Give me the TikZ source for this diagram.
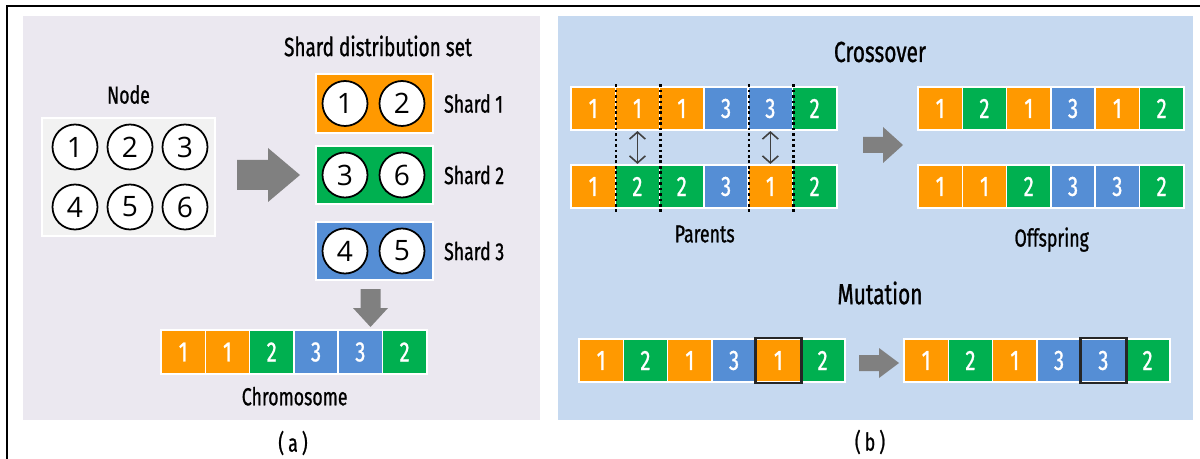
\documentclass[tikz,border=0pt]{standalone}
\usepackage{fontspec}
\setmainfont{Fira Sans}[FakeStretch=0.72,FakeBold=0.9]
\newfontfamily\serverfont{Open Sans}
\usepackage{tikz}
\usetikzlibrary{arrows.meta,positioning}
\definecolor{gO}{RGB}{255,153,0}
\definecolor{gG}{RGB}{0,176,80}
\definecolor{gB}{RGB}{85,142,213}
\definecolor{panelLilac}{RGB}{235,232,240}
\definecolor{panelBlue}{RGB}{198,217,240}
\definecolor{poolGray}{RGB}{242,242,242}
\definecolor{arrowGray}{RGB}{128,128,128}
% one chromosome: name, left x, centre y, colour/digit list
\newcommand{\chromrow}[4]{%
  \foreach \c/\d [count=\i] in {#4}
    \node[gene, fill=\c] (#1-\i) at ({#2+44.3*(\i-0.5)},#3) {\d};%
}

\begin{document}
\begin{tikzpicture}[
    x=0.02cm, y=-0.02cm,
    >={Straight Barb[length=4pt,width=9pt]},
    every node/.style={font=\fontsize{14}{16}\selectfont},
    heading/.style={font=\fontsize{16.5}{18}\selectfont},
    lbl/.style={inner sep=0pt},
    gene/.style={
        draw=white,
        line width=0.9pt,
        minimum width=0.886cm,
        minimum height=0.87cm,
        inner sep=0pt,
        text=white,
        font=\fontsize{16}{16}\selectfont
    },
    server/.style={
        circle,
        draw,
        line width=1pt,
        fill=white,
        minimum size=0.9cm,
        inner sep=0pt,
        font=\serverfont\fontsize{16}{16}\selectfont
    },
    poolbox/.style={draw=white, line width=0.9pt, fill=poolGray,
        minimum width=3.46cm, minimum height=2.36cm},
    shardbox/.style={draw=white, line width=0.9pt,
        minimum width=2.34cm, minimum height=1.17cm},
    cut/.style={line width=1.5pt, dash pattern=on 1.5pt off 1.6pt},
    swaparrow/.style={<->, draw=black!75, line width=0.9pt},
    mutline/.style={draw=black!85, line width=1.4pt},
    pics/fatarrow/.style n args={4}{code={
        \fill[arrowGray] (#1,-#3) -- (0,-#3) -- (0,-#4) -- (#2,0)
            -- (0,#4) -- (0,#3) -- (#1,#3) -- cycle;}}
]
  \useasboundingbox (0,0) rectangle (1200,459);
  \draw[line width=1.2pt] (7,470) -- (7,6) -- (1210,6);
  \fill[panelLilac] (23,16) rectangle (540,420);
  \fill[panelBlue] (558,16) rectangle (1193,420);

  % (a) encoding
  \node[heading, font=\fontsize{15}{17}\selectfont] (shardtitle) at (378,46) {Shard distribution set};
  \node[poolbox] (pool) at (128.5,177) {};
  \node[lbl, above=0.26cm of pool] (poollabel) {Node};
  \node[server] (n1) at (75,147) {1};
  \node[server] (n2) at (130,147) {2};
  \node[server] (n3) at (185,147) {3};
  \node[server] (n4) at (75,207) {4};
  \node[server] (n5) at (130,207) {5};
  \node[server] (n6) at (185,207) {6};

  \pic at (268,175) {fatarrow={-31}{32}{15}{27}};

  \node[shardbox, fill=gO] (shard1) at (374.5,103.5) {};
  \node[server] (s1a) at (345,103.5) {1};
  \node[server] (s1b) at (402,103.5) {2};
  \node[lbl, right=0.2cm of shard1] (shard1label) {Shard 1};
  \node[shardbox, fill=gG] (shard2) at (374.5,175) {};
  \node[server] (s2a) at (345,175) {3};
  \node[server] (s2b) at (402,175) {6};
  \node[lbl, right=0.2cm of shard2] (shard2label) {Shard 2};
  \node[shardbox, fill=gB] (shard3) at (374.5,251) {};
  \node[server] (s3a) at (345,251) {4};
  \node[server] (s3b) at (402,251) {5};
  \node[lbl, right=0.2cm of shard3] (shard3label) {Shard 3};

  \pic[rotate=-90] at (370.5,308) {fatarrow={-19}{19}{10}{17.5}};

  \chromrow{ch}{161}{352}{gO/1,gO/1,gG/2,gB/3,gB/3,gG/2}
  \node[lbl, below=0.24cm of ch-3.south east] (chromlabel) {Chromosome};
  \node[lbl] (capa) at (293,443) {(\,a\,)};

  % (b) crossover
  \node[heading] (crosstitle) at (880,52) {Crossover};
  \chromrow{pa}{571}{108.5}{gO/1,gO/1,gO/1,gB/3,gB/3,gG/2}
  \chromrow{pb}{571}{186.5}{gO/1,gG/2,gG/2,gB/3,gO/1,gG/2}
  \foreach \k in {1,2,4,5}
    \draw[cut] ([yshift=1pt]pa-\k.north east) -- ([yshift=-2.8pt]pb-\k.south east);
  \draw[swaparrow] (pa-2) -- (pb-2);
  \draw[swaparrow] (pa-5) -- (pb-5);
  \node[lbl, below=0.32cm of pb-3.south east] (parentslabel) {Parents};

  \pic at (883,145) {fatarrow={-20}{20}{8}{18}};

  \chromrow{oa}{918}{108.5}{gO/1,gG/2,gO/1,gB/3,gO/1,gG/2}
  \chromrow{ob}{918}{186.5}{gO/1,gO/1,gG/2,gB/3,gB/3,gG/2}
  \node[lbl, below=0.36cm of ob-3.south east] (offspringlabel) {Offspring};

  % (b) mutation
  \node[heading] (mutationtitle) at (880,293) {Mutation};
  \chromrow{ma}{579}{360.5}{gO/1,gG/2,gO/1,gB/3,gO/1,gG/2}
  \chromrow{mb}{904}{360.5}{gO/1,gG/2,gO/1,gB/3,gB/3,gG/2}
  \draw[mutline] (ma-5.north west) rectangle (ma-5.south east);
  \draw[mutline] (mb-5.north west) rectangle (mb-5.south east);
  \pic at (879,363) {fatarrow={-20}{20}{8}{15}};
  \node[lbl] (capb) at (870,442) {(\,b\,)};
\end{tikzpicture}
\end{document}
